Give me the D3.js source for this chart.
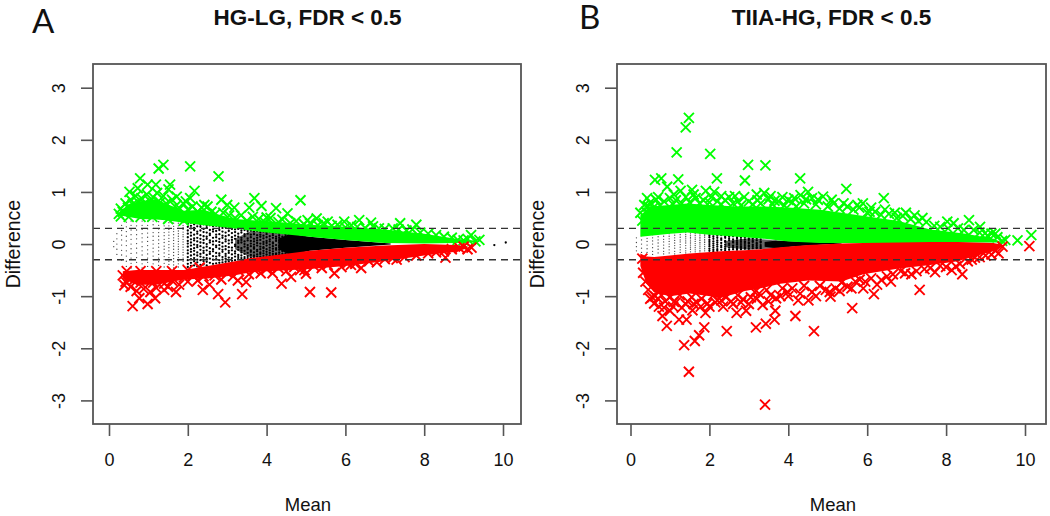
<!DOCTYPE html>
<html><head><meta charset="utf-8">
<script src="https://cdn.jsdelivr.net/npm/d3@7/dist/d3.min.js"></script>
<style>html,body{margin:0;background:#fff}svg{display:block}text{font-family:"Liberation Sans",Arial,sans-serif;fill:#111}</style>
</head><body><div id="c"></div>
<script>
const xTicks=[0,2,4,6,8,10];
const yTicks=[-3,-2,-1,0,1,2,3];
const cutoffs=[0.3,-0.3];

// solid bodies of overplotted marks: [mean, edge, edge]
const greenBandA=[[.28,.55,.62],[.5,.52,.77],[.8,.48,.82],[1.2,.47,.86],[1.5,.45,.76],[1.9,.41,.64],[2.4,.36,.66],[2.8,.33,.56],[3.2,.3,.48],[4,.22,.44],[5.1,.14,.37],[6,.08,.33],[7,.02,.28],[8,.01,.2],[8.8,.02,.1],[9.4,.04,.06]];
const redBandA=[[.35,-.52,-.66],[.7,-.5,-.78],[1.2,-.5,-.78],[1.9,-.5,-.68],[2.5,-.42,-.66],[3.2,-.33,-.6],[3.6,-.27,-.54],[5.1,-.13,-.48],[6,-.07,-.42],[7,-.03,-.33],[8,0,-.22],[8.8,-.02,-.15],[9.1,-.04,-.08]];
const blackBandA=[[4.3,.1,-.1],[4.6,.2,-.21],[5.1,.14,-.13],[6,.08,-.07],[7.15,.01,-.01]];
const speckleBandA=[[3.2,.1,-.1],[3.6,.25,-.26],[4.6,.2,-.21]];
const greenBandB=[[.25,.14,.55],[.5,.16,.72],[1,.2,.75],[1.44,.22,.78],[2,.18,.75],[2.7,.14,.72],[3.4,.1,.72],[4,.05,.7],[4.8,.02,.66],[5.35,.02,.6],[6,.02,.53],[6.8,.02,.44],[7.6,.02,.28],[8.5,.03,.2],[9.2,.03,.1],[9.4,.03,.04]];
const redBandB=[[.25,-.18,-.42],[.4,-.24,-.75],[.6,-.25,-.93],[1,-.22,-1],[1.5,-.18,-.95],[2.3,-.14,-1.03],[2.9,-.12,-.9],[3.3,-.1,-.85],[3.8,-.06,-.76],[4.5,-.02,-.7],[5.35,.01,-.72],[5.9,.02,-.58],[6.8,.03,-.47],[7.6,.04,-.4],[8.3,.04,-.33],[8.7,.03,-.24],[9.2,.02,-.14],[9.45,-.02,-.04]];
const blackBandB=[[3.4,.04,-.05],[3.7,.07,-.08],[4.2,.05,-.04],[5.35,.02,.01]];
const speckleBandB=[[2.4,.06,-.06],[3,.11,-.11],[3.7,.07,-.08]];

// individual marks [mean, difference]
const greenMarksA=[[1.38,1.52],[1.26,1.45],[2.06,1.49],[2.78,1.3],[.79,1.26],[.98,1.14],[1.19,1.14],[1.55,1.14],[1.51,1.05],[2.17,1.02],[.73,1.07],[.52,1],[1.72,.91],[2.06,.88],[1.95,.82],[2.85,.85],[3,.75],[3.18,.7],[3.69,.88],[3.56,.7],[3.87,.73],[4.24,.69],[4.53,.59],[4.86,.84],[4,.51],[2.42,.75],[5.27,.49],[5.55,.43],[5.97,.43],[6.35,.46],[6.65,.41],[7.39,.4],[7.8,.37],[9.19,.17],[9.4,.08],[5.04,.46],
[.25,.58],[.3,.68],[.35,.62],[.42,.78],[.48,.7],[.55,.85],[.6,.76],[.68,.92],[.75,.8],[.82,.88],[.9,.78],[.96,.95],[1.05,.82],[1.12,.9],[1.22,.98],[1.3,.8],[1.38,.92],[1.45,.78],[1.6,.85],[1.68,.72],[1.8,.68],[1.88,.78],[2,.66],[2.12,.72],[2.25,.62],[2.35,.7],[2.5,.72],[2.6,.62],[2.7,.58],[2.9,.6],[3.05,.55],[3.2,.5],[3.35,.55],[3.5,.45],[3.65,.52],[3.8,.48],[3.95,.42],[4.1,.5],[4.3,.42],[4.4,.47],[4.6,.4],[4.75,.44],[4.95,.38],[5.1,.4],[5.3,.36],[5.45,.4],[5.65,.35],[5.8,.37],[6,.32],[6.15,.36],[6.3,.33],[6.5,.31],[6.7,.34],[6.85,.3],[7,.29],[7.2,.3],[7.35,.28],[7.55,.26],[7.7,.28],[7.9,.22],[8.1,.2],[8.3,.17],[8.5,.14],[8.7,.12],[8.85,.08],[9,.07],[9.1,.1],[9.3,.05],
[.3,.53],[.5,.52],[.8,.52],[1.1,.52],[1.5,.48],[1.9,.45]];
const redMarksA=[[.6,-1.19],[.98,-1.15],[1.17,-1.04],[.77,-1.04],[.39,-.79],[2.95,-1.12],[2.77,-.96],[3.38,-.96],[2.38,-.88],[1.7,-.92],[1.4,-.88],[4.38,-.76],[4.62,-.63],[5.1,-.92],[3.48,-.73],[3.27,-.7],[4.96,-.5],[5.64,-.93],[5,-.57],[5.72,-.56],[6.4,-.46],[6.14,-.4],[7.3,-.3],[8.54,-.26],[9.2,-.07],[9.1,-.1],
[.35,-.6],[.42,-.72],[.5,-.62],[.55,-.82],[.62,-.7],[.7,-.9],[.8,-.74],[.88,-.86],[.95,-.68],[1.05,-.92],[1.12,-.74],[1.2,-.84],[1.3,-.66],[1.4,-.76],[1.5,-.82],[1.6,-.7],[1.78,-.78],[1.9,-.64],[2,-.72],[2.12,-.6],[2.25,-.7],[2.4,-.62],[2.55,-.78],[2.68,-.6],[2.85,-.68],[3,-.55],[3.15,-.62],[3.3,-.52],[3.55,-.58],[3.7,-.5],[3.85,-.56],[4,-.48],[4.15,-.56],[4.3,-.46],[4.5,-.52],[4.7,-.44],[4.85,-.5],[5.2,-.42],[5.4,-.46],[5.55,-.4],[5.9,-.44],[6.05,-.37],[6.25,-.38],[6.6,-.33],[6.8,-.35],[7,-.29],[7.2,-.27],[7.5,-.25],[7.8,-.22],[8.1,-.18],[8.3,-.16],[8.5,-.14],[8.7,-.1],[8.9,-.08],[9,-.05],
[.45,-.52],[.8,-.52],[1.2,-.52],[1.6,-.52],[2,-.5],[2.3,-.45]];
const greenMarksB=[[1.48,2.42],[1.4,2.24],[1.17,1.76],[2.02,1.73],[2.98,1.52],[3.42,1.51],[.62,1.23],[.78,1.26],[1.21,1.24],[2.19,1.26],[2.9,1.22],[4.3,1.26],[4.5,1],[4.31,.94],[4.6,.88],[4.88,.91],[3.39,.98],[2.88,.9],[2.12,1],[1.91,1.02],[1.56,1.04],[1.27,1.02],[.93,1.1],[.42,.88],[2.5,.9],[4,.85],[3.65,.83],[5.47,1.06],[6.42,.88],[5.89,.78],[6.06,.62],[6.98,.6],[8.03,.43],[8.58,.46],[8.86,.33],[8.19,.4],[9.25,.2],[9.5,.08],[9.81,.07],[10.16,.17],[8.99,.21],
[.25,.6],[.3,.45],[.35,.75],[.4,.62],[.5,.8],[.58,.7],[.65,.85],[.75,.74],[.85,.82],[1,.88],[1.08,.76],[1.15,.84],[1.3,.78],[1.4,.9],[1.5,.8],[1.65,.88],[1.75,.78],[1.85,.84],[2,.8],[2.05,.9],[2.2,.82],[2.3,.76],[2.4,.84],[2.6,.78],[2.72,.82],[2.8,.74],[3,.82],[3.1,.76],[3.22,.84],[3.3,.78],[3.5,.86],[3.6,.76],[3.75,.82],[3.9,.74],[4.1,.8],[4.2,.72],[4.4,.78],[4.7,.76],[5,.72],[5.15,.78],[5.3,.68],[5.5,.72],[5.65,.66],[5.8,.7],[6,.6],[6.2,.62],[6.35,.56],[6.55,.58],[6.75,.5],[6.9,.54],[7.1,.48],[7.3,.44],[7.5,.42],[7.7,.35],[7.85,.33],[8.05,.3],[8.3,.3],[8.45,.27],[8.7,.27],[8.85,.22],[9.05,.16],[9.15,.2],[9.3,.13],[9.42,.06],
[.45,.72],[.7,.9],[1.1,.95],[1.6,.95],[2.3,.92],[2.65,.92],[3.2,.95],[3.55,.92],[3.85,.9],[4.15,.88],[4.45,.86],[4.75,.85],[5.1,.85],[5.4,.78],[5.75,.75],[6.1,.7],[6.45,.66],[6.7,.6],[7.2,.55],[7.4,.5]];
const redMarksB=[[3.41,-3.08],[1.48,-2.45],[1.36,-1.94],[1.63,-1.86],[1.74,-1.75],[1.87,-1.6],[2.44,-1.67],[3.18,-1.6],[3.43,-1.53],[3.65,-1.45],[4.18,-1.38],[4.65,-1.67],[.92,-1.57],[1.23,-1.45],[1.42,-1.45],[1.9,-1.32],[2.69,-1.32],[2.93,-1.28],[3.35,-1.17],[3.67,-1.28],[3.69,-1.04],[4.25,-1.08],[4.51,-1.08],[5.07,-1.01],[.81,-1.38],[.6,-1.14],[1.1,-1.11],[1.57,-1.27],[2.3,-1.08],[3.26,-.95],[4.8,-.8],[6.17,-.96],[7.33,-.88],[5.62,-1.23],[8.41,-.58],[8.14,-.5],[7.12,-.58],[7.72,-.54],[6.36,-.69],[5.81,-.68],[9.33,-.18],[9.43,-.05],[10.11,-.04],[6.96,-.56],[8.73,-.26],
[.3,-.28],[.32,-.55],[.38,-.72],[.45,-.88],[.55,-1.02],[.7,-1.05],[.78,-.98],[.88,-1.1],[1,-1.02],[1.15,-1.12],[1.25,-.98],[1.4,-1.15],[1.55,-1.02],[1.68,-1.12],[1.8,-1.05],[1.95,-1.14],[2.1,-.98],[2.2,-1.08],[2.42,-1.02],[2.55,-1.1],[2.72,-.98],[2.85,-1.06],[3.05,-1.02],[3.15,-.92],[3.45,-.88],[3.55,-.98],[3.85,-.85],[3.98,-.92],[4.1,-.85],[4.4,-.8],[4.6,-.92],[4.95,-.88],[5.2,-.85],[5.35,-.74],[5.5,-.82],[5.7,-.72],[5.95,-.72],[6.1,-.66],[6.5,-.62],[6.65,-.58],[6.85,-.52],[7.25,-.52],[7.45,-.48],[7.6,-.46],[7.85,-.42],[8,-.44],[8.25,-.43],[8.35,-.38],[8.55,-.33],[8.65,-.3],[8.85,-.25],[9,-.22],[9.15,-.2],[9.25,-.13],
[.5,-1.05],[.62,-1],[.72,-1.2],[.85,-1.22],[1,-1.28],[1.08,-1.2],[1.3,-1.22],[1.45,-1.1],[1.6,-1.15],[1.78,-1.2],[2,-1.2],[2.15,-1.12],[2.35,-1.2],[2.6,-1.15],[2.8,-1.12],[3,-1.15],[3.2,-1.05],[3.5,-1.1],[3.8,-1],[4,-1],[4.3,-.95],[4.7,-1],[5.05,-.92],[5.3,-.9],[5.6,-.85],[5.9,-.85],[6.25,-.78],[6.6,-.72]];

// black points, column by column: [mean, differences]
const blackColsA=[
[.12,[.05,-.05]],[.2,[.2,.1,.0,-.1,-.2]],[.32,[.36,.26,.17,.08,-.02,-.12,-.21,-.31]],[.44,[.42,.33,.24,.15,.06,-.03,-.13,-.23,-.33,-.43]],[.56,[.44,.36,.27,.18,.09,0,-.09,-.18,-.27,-.37,-.46]],[.7,[.43,.35,.27,.18,.1,.01,-.08,-.17,-.26,-.35,-.44]],[.84,[.44,.36,.28,.2,.12,.04,-.05,-.13,-.21,-.3,-.38,-.46]],[.98,[.44,.36,.29,.21,.13,.05,-.03,-.11,-.19,-.27,-.35,-.43]],[1.12,[.44,.37,.3,.22,.15,.07,0,-.08,-.15,-.23,-.3,-.38,-.45]],[1.26,[.43,.36,.29,.22,.15,.08,.01,-.06,-.13,-.2,-.27,-.34,-.41,-.47]],[1.4,[.42,.35,.29,.22,.16,.09,.03,-.04,-.1,-.17,-.24,-.3,-.37,-.44]],[1.52,[.41,.35,.28,.23,.17,.11,.05,-.01,-.07,-.13,-.2,-.26,-.33,-.39,-.46]],[1.64,[.4,.34,.29,.24,.18,.12,.07,.01,-.04,-.1,-.16,-.22,-.28,-.34,-.4,-.46]],[1.76,[.4,.35,.3,.25,.2,.15,.1,.05,0,-.05,-.1,-.15,-.2,-.26,-.32,-.38,-.44]],[1.88,[.41,.36,.32,.28,.23,.18,.14,.09,.04,-.01,-.06,-.11,-.16,-.21,-.27,-.33,-.4]],
[2,[.39,.33,.26,.2,.13,.06,.01,-.05,-.12,-.18,-.25,-.31,-.38,-.44]],[2.08,[.41,.35,.3,.22,.16,.09,.03,-.03,-.1,-.15,-.22,-.29,-.36,-.42]],[2.16,[.38,.31,.27,.18,.11,.07,-.01,-.08,-.13,-.2,-.27,-.33,-.41]],[2.24,[.4,.34,.24,.2,.12,.05,-.02,-.06,-.16,-.22,-.3,-.35,-.43]],[2.32,[.37,.33,.26,.17,.1,.03,-.04,-.11,-.19,-.24,-.31,-.4]],[2.4,[.38,.29,.23,.15,.08,.02,-.07,-.13,-.17,-.26,-.33,-.39]],[2.48,[.35,.31,.22,.14,.1,0,-.05,-.12,-.21,-.27,-.34,-.41]],[2.56,[.36,.27,.2,.17,.07,.03,-.08,-.15,-.19,-.28,-.36]],[2.64,[.34,.28,.24,.12,.05,-.01,-.1,-.14,-.23,-.3,-.38]],[2.72,[.35,.25,.18,.13,.06,-.03,-.06,-.17,-.24,-.29,-.37]],[2.8,[.33,.27,.19,.1,.04,-.02,-.09,-.18,-.22,-.31,-.36]],[2.88,[.31,.24,.16,.12,.02,-.05,-.11,-.15,-.25,-.3,-.35]],[2.96,[.32,.22,.15,.09,.05,-.04,-.1,-.19,-.23,-.28,-.34]],[3.04,[.3,.25,.17,.07,.01,-.06,-.13,-.17,-.26,-.33]],[3.12,[.29,.21,.13,.08,.03,-.07,-.12,-.2,-.27,-.32]],[3.2,[.28,.23,.16,.1,-.01,-.04,-.14,-.18,-.24,-.31]],[3.28,[.29,.2,.14,.06,.02,-.06,-.11,-.21,-.25,-.29]],[3.36,[.26,.22,.12,.08,.03,-.08,-.12,-.16,-.22,-.27]],[3.44,[.27,.19,.15,.05,0,-.05,-.13,-.19,-.25,-.28]],[3.52,[.25,.2,.11,.07,-.02,-.07,-.1,-.17,-.23,-.27]],[3.6,[.26,.18,.13,.06,.01,-.04,-.12,-.15,-.21,-.26]],[3.68,[.24,.19,.1,.05,-.01,-.06,-.09,-.16,-.22,-.25]],[3.76,[.25,.17,.12,.07,.02,-.03,-.11,-.14,-.2,-.24]],[3.84,[.23,.18,.14,.08,.01,-.05,-.1,-.16,-.19,-.24]],[3.92,[.24,.16,.11,.04,0,-.06,-.08,-.13,-.18,-.23]],[4,[.22,.19,.13,.06,.02,-.03,-.1,-.15,-.2,-.24]],[4.08,[.23,.15,.09,.05,-.01,-.07,-.12,-.17,-.22]],[4.16,[.21,.17,.12,.03,.01,-.04,-.09,-.14,-.19,-.23]],[4.24,[.22,.14,.1,.06,-.02,-.08,-.11,-.18,-.21]],
[4.32,[.2,.16,.12,.07,.03,-.03,-.06,-.11,-.16,-.2]],[4.4,[.21,.14,.1,.04,0,-.05,-.1,-.14,-.19]],[4.48,[.19,.15,.11,.06,.02,-.02,-.07,-.12,-.18]],[4.56,[.18,.13,.09,.04,0,-.04,-.09,-.13,-.17]],[4.64,[.19,.14,.08,.05,.01,-.03,-.08,-.12,-.16]],
[9.78,[-.02]],[10.07,[.03]]];
const blackColsB=[
[.15,[.12,.03,-.05,-.13]],[.28,[.16,.08,0,-.08,-.16]],[.42,[.17,.11,.05,-.02,-.09,-.16]],[.56,[.18,.12,.06,0,-.07,-.14,-.2]],[.7,[.2,.14,.08,.02,-.04,-.1,-.17]],[.84,[.21,.15,.09,.04,-.02,-.08,-.14,-.19]],[.98,[.2,.15,.1,.05,0,-.05,-.11,-.17]],[1.12,[.22,.17,.12,.07,.02,-.03,-.08,-.14,-.19]],[1.26,[.22,.18,.13,.08,.04,-.01,-.06,-.11,-.16]],[1.4,[.22,.18,.14,.1,.06,.02,-.03,-.08,-.13,-.17]],[1.52,[.21,.17,.13,.1,.06,.02,-.02,-.06,-.1,-.15]],[1.64,[.2,.16,.12,.09,.05,.01,-.03,-.07,-.11,-.15]],[1.76,[.2,.17,.13,.1,.07,.03,0,-.04,-.08,-.12,-.15]],[1.88,[.19,.16,.13,.09,.06,.03,-.01,-.05,-.09,-.13]],
[2,[.17,.13,.08,.04,0,-.04,-.09,-.13]],[2.1,[.18,.14,.1,.05,.01,-.03,-.07,-.11,-.14]],[2.2,[.16,.12,.07,.03,-.01,-.05,-.1,-.13]],[2.3,[.17,.11,.08,.02,-.03,-.06,-.11]],[2.4,[.15,.12,.06,.04,-.01,-.05,-.09,-.12]],[2.5,[.14,.1,.07,.01,-.02,-.07,-.11]],[2.6,[.15,.09,.05,.03,-.03,-.06,-.1]],[2.7,[.13,.1,.06,.02,-.01,-.05,-.08,-.11]],[2.8,[.12,.08,.04,0,-.04,-.07,-.1]],[2.9,[.13,.09,.05,.02,-.02,-.06,-.09]],[3,[.11,.08,.03,.01,-.03,-.05,-.09]],[3.1,[.1,.06,.04,-.01,-.04,-.08]],[3.2,[.11,.07,.02,0,-.03,-.06,-.08]],[3.3,[.09,.05,.03,-.02,-.05,-.08]]];

const W=1050,H=516;
const svg=d3.select("#c").append("svg").attr("width",W).attr("height",H);
const panels=[
 {frame:[93,521],x:[109,503],label:"A",labelX:32,labelY:33,title:"HG-LG, FDR < 0.5",titleX:307.5,yLabelX:65,yTitleX:20,meanX:308,
  green:greenBandA,red:redBandA,black:blackBandA,speckle:speckleBandA,gm:greenMarksA,rm:redMarksA,cols:blackColsA},
 {frame:[617,1046],x:[630.5,1025],label:"B",labelX:579,labelY:29,title:"TIIA-HG, FDR < 0.5",titleX:831.5,yLabelX:589,yTitleX:544,meanX:833,
  green:greenBandB,red:redBandB,black:blackBandB,speckle:speckleBandB,gm:greenMarksB,rm:redMarksB,cols:blackColsB}];
const y=d3.scaleLinear().domain([-3,3]).range([400.4,87.7]);
const frameTop=64,frameBottom=424;
panels.forEach(p=>{
  const x=d3.scaleLinear().domain([0,10]).range(p.x);
  const g=svg.append("g");
  const area=d3.area().x(d=>x(d[0])).y0(d=>y(d[1])).y1(d=>y(d[2]));
  g.append("path").attr("d",area(p.speckle)).attr("fill","#666");
  g.append("path").attr("d",area(p.black)).attr("fill","#000");
  p.cols.forEach(c=>{g.selectAll(null).data(c[1]).enter().append("circle")
    .attr("cx",x(c[0])).attr("cy",d=>y(d)).attr("r",c[0]<2?0.65:1.15).attr("fill",c[0]<2?"#444":"#000");});
  const X="M-5,-5L5,5M-5,5L5,-5";
  const marks=(data,col)=>g.selectAll(null).data(data).enter().append("path").attr("d",X)
     .attr("transform",d=>`translate(${x(d[0])},${y(d[1])})`).attr("stroke",col).attr("stroke-width",1.9).attr("fill","none");
  g.append("path").attr("d",area(p.green)).attr("fill","#00ff00");
  marks(p.gm,"#00ff00");
  g.append("path").attr("d",area(p.red)).attr("fill","#ff0000");
  marks(p.rm,"#ff0000");
  g.selectAll(null).data(cutoffs).enter().append("line")
    .attr("x1",p.frame[0]).attr("x2",p.frame[1]).attr("y1",d=>y(d)).attr("y2",d=>y(d))
    .attr("stroke","#333").attr("stroke-width",1.4).attr("stroke-dasharray","7 5");
  g.append("rect").attr("x",p.frame[0]).attr("y",frameTop).attr("width",p.frame[1]-p.frame[0]).attr("height",frameBottom-frameTop)
    .attr("fill","none").attr("stroke","#555").attr("stroke-width",1.8);
  const ax=g.append("g").attr("transform",`translate(0,${frameBottom})`).call(d3.axisBottom(x).tickValues(xTicks).tickSize(12).tickPadding(17).tickFormat(d3.format("d")));
  ax.select(".domain").remove();
  ax.selectAll("line").attr("stroke","#555").attr("stroke-width",1.6);
  ax.selectAll("text").attr("font-size",18).attr("fill","#111").attr("font-family","Liberation Sans");
  const ay=g.append("g").attr("transform",`translate(${p.frame[0]},0)`).call(d3.axisLeft(y).tickValues(yTicks).tickSize(12).tickFormat(d=>String(d)));
  ay.select(".domain").remove();
  ay.selectAll("line").attr("stroke","#555").attr("stroke-width",1.6);
  ay.selectAll("text").attr("font-size",18).attr("fill","#111").attr("font-family","Liberation Sans")
    .attr("text-anchor","middle").attr("dy",null).attr("x",null)
    .attr("transform",`translate(${p.yLabelX-p.frame[0]},0) rotate(-90)`);
  svg.append("text").attr("x",p.labelX).attr("y",p.labelY).text(p.label).style("font-family","Lato").attr("font-size",33);
  svg.append("text").attr("x",p.titleX).attr("y",25).attr("text-anchor","middle").attr("font-weight","bold").attr("font-size",22.5).text(p.title);
  svg.append("text").attr("x",p.meanX).attr("y",511).attr("text-anchor","middle").attr("font-size",18.5).text("Mean");
  svg.append("text").attr("transform",`translate(${p.yTitleX},${y(0)}) rotate(-90)`).attr("text-anchor","middle").attr("font-size",19.5).text("Difference");
});
</script></body></html>
